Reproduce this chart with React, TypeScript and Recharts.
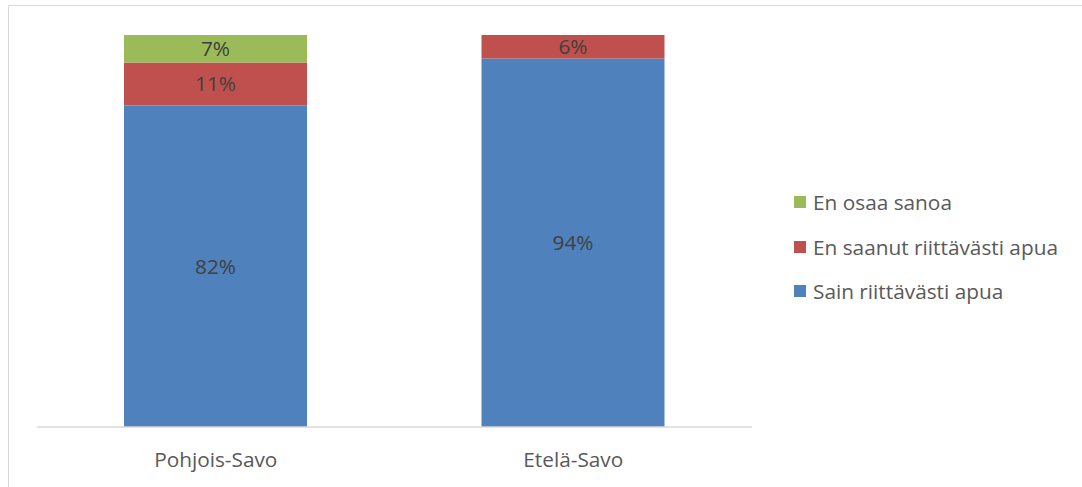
import { Bar, BarChart, LabelList, Legend, XAxis, YAxis } from "recharts";

const regions = ["Pohjois-Savo", "Etelä-Savo"];
const sainApua = [82, 94];
const eiSaanut = [11, 6];
const eiOsaa = [7, 0];

const seriesNames = ["Sain riittävästi apua", "En saanut riittävästi apua", "En osaa sanoa"];
const seriesColors = ["#4F81BD", "#C0504D", "#9BBB59"];

const data = regions.map((region, i) => ({
  region,
  sain: sainApua[i],
  eiSaanut: eiSaanut[i],
  eiOsaa: eiOsaa[i] || null,
}));

const FONT = "'Open Sans', Lato, sans-serif";
const FONT_SIZE = 20.8;

const pct = (v: unknown) => (v == null || v === 0 ? "" : `${v}%`);

// legend lists the top segment first, like the stacking order seen in the bars
function LegendBox() {
  const order = [2, 1, 0];
  return (
    <div style={{ fontFamily: FONT }}>
      {order.map((i) => (
        <div
          key={seriesNames[i]}
          style={{ display: "flex", alignItems: "center", height: 44.5, fontSize: FONT_SIZE, color: "#595959" }}
        >
          <span style={{ width: 12, height: 12, background: seriesColors[i], marginRight: 7, display: "inline-block" }} />
          {seriesNames[i]}
        </div>
      ))}
    </div>
  );
}

export default function App() {
  return (
    <div
      style={{
        position: "absolute",
        left: 8,
        top: 5,
        width: 1074,
        height: 482,
        borderTop: "1px solid #d9d9d9",
        borderLeft: "1px solid #d9d9d9",
        background: "#fff",
        overflow: "hidden",
      }}
    >
      <BarChart width={1073} height={481} data={data} margin={{ top: 29, right: 42, bottom: 20, left: 28 }}>
        <XAxis
          dataKey="region"
          height={40}
          tickLine={false}
          stroke="#d9d9d9"
          strokeWidth={1.5}
          tickMargin={19}
          tick={{ fill: "#595959", fontSize: FONT_SIZE, fontFamily: FONT }}
        />
        <YAxis hide domain={[0, 100]} />
        <Legend
          layout="vertical"
          align="right"
          verticalAlign="middle"
          width={288}
          content={<LegendBox />}
          wrapperStyle={{ left: 785, top: 174, width: 288 }}
        />
        <Bar dataKey="sain" name={seriesNames[0]} stackId="a" fill={seriesColors[0]} barSize={183} isAnimationActive={false}>
          <LabelList dataKey="sain" position="center" formatter={pct} fill="#404040" fontSize={FONT_SIZE} fontFamily={FONT} />
        </Bar>
        <Bar dataKey="eiSaanut" name={seriesNames[1]} stackId="a" fill={seriesColors[1]} barSize={183} isAnimationActive={false}>
          <LabelList dataKey="eiSaanut" position="center" formatter={pct} fill="#404040" fontSize={FONT_SIZE} fontFamily={FONT} />
        </Bar>
        <Bar dataKey="eiOsaa" name={seriesNames[2]} stackId="a" fill={seriesColors[2]} barSize={183} isAnimationActive={false}>
          <LabelList dataKey="eiOsaa" position="center" formatter={pct} fill="#404040" fontSize={FONT_SIZE} fontFamily={FONT} />
        </Bar>
      </BarChart>
    </div>
  );
}
